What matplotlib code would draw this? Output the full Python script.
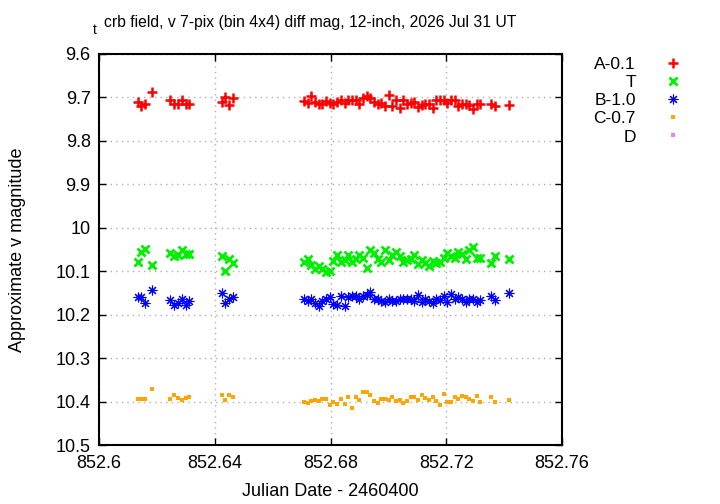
import matplotlib
matplotlib.use('Agg')
import matplotlib.pyplot as plt

plt.rcParams['font.family'] = ['Liberation Sans', 'DejaVu Sans']

# times (JD - 2460400), shared by every series
jd = [852.6134, 852.6145, 852.6160, 852.6184,
      852.6246, 852.6260, 852.6273, 852.6286, 852.6300, 852.6311,
      852.6424, 852.6436, 852.6450, 852.6463,
      852.6709, 852.6722, 852.6734, 852.6747, 852.6760, 852.6772, 852.6785, 852.6798,
      852.6810, 852.6823, 852.6836, 852.6849, 852.6861, 852.6874, 852.6887, 852.6899,
      852.6912, 852.6925, 852.6937, 852.6950, 852.6963, 852.6976, 852.6988, 852.7001,
      852.7014, 852.7026, 852.7039, 852.7052, 852.7064, 852.7077, 852.7090, 852.7103,
      852.7115, 852.7128, 852.7141, 852.7153, 852.7166, 852.7179, 852.7191, 852.7204,
      852.7217, 852.7230, 852.7242, 852.7255, 852.7268, 852.7280, 852.7293, 852.7306,
      852.7315, 852.7355, 852.7367, 852.7417]

a_mag = [9.710, 9.719, 9.714, 9.688,
         9.707, 9.714, 9.716, 9.705, 9.714, 9.714,
         9.711, 9.700, 9.717, 9.702,
         9.708, 9.712, 9.696, 9.710, 9.716, 9.714, 9.708, 9.712,
         9.714, 9.711, 9.707, 9.712, 9.707, 9.706, 9.706, 9.714,
         9.702, 9.697, 9.702, 9.710, 9.715, 9.712, 9.719, 9.694,
         9.719, 9.706, 9.724, 9.707, 9.716, 9.712, 9.711, 9.723,
         9.717, 9.715, 9.714, 9.724, 9.707, 9.707, 9.707, 9.712,
         9.707, 9.705, 9.720, 9.716, 9.715, 9.717, 9.727, 9.715,
         9.714, 9.714, 9.719, 9.717]

t_mag = [10.079, 10.056, 10.048, 10.086,
         10.057, 10.065, 10.063, 10.050, 10.060, 10.060,
         10.065, 10.099, 10.072, 10.080,
         10.079, 10.073, 10.086, 10.094, 10.088, 10.094, 10.102, 10.099,
         10.076, 10.063, 10.079, 10.074, 10.063, 10.079, 10.071, 10.063,
         10.069, 10.092, 10.050, 10.057, 10.071, 10.079, 10.052, 10.074,
         10.063, 10.055, 10.066, 10.079, 10.074, 10.073, 10.063, 10.084,
         10.074, 10.082, 10.089, 10.076, 10.080, 10.079, 10.069, 10.057,
         10.066, 10.069, 10.055, 10.060, 10.073, 10.050, 10.044, 10.069,
         10.070, 10.082, 10.065, 10.071]

b_mag = [10.159, 10.159, 10.174, 10.143,
         10.167, 10.178, 10.172, 10.164, 10.178, 10.169,
         10.150, 10.174, 10.164, 10.160,
         10.164, 10.168, 10.164, 10.172, 10.179, 10.168, 10.163, 10.160,
         10.176, 10.178, 10.158, 10.179, 10.160, 10.158, 10.158, 10.164,
         10.158, 10.155, 10.147, 10.164, 10.163, 10.168, 10.170, 10.163,
         10.168, 10.168, 10.164, 10.164, 10.163, 10.164, 10.168, 10.155,
         10.170, 10.164, 10.168, 10.172, 10.163, 10.166, 10.158, 10.170,
         10.153, 10.163, 10.160, 10.164, 10.170, 10.164, 10.164, 10.170,
         10.166, 10.156, 10.166, 10.149]

c_mag = [10.394, 10.393, 10.394, 10.371,
         10.393, 10.386, 10.391, 10.397, 10.391, 10.390,
         10.386, 10.396, 10.386, 10.389,
         10.402, 10.404, 10.399, 10.396, 10.399, 10.394, 10.393, 10.409,
         10.402, 10.406, 10.395, 10.406, 10.390, 10.414, 10.389, 10.396,
         10.377, 10.377, 10.385, 10.399, 10.404, 10.395, 10.395, 10.396,
         10.389, 10.399, 10.396, 10.403, 10.399, 10.390, 10.389, 10.396,
         10.386, 10.391, 10.396, 10.389, 10.399, 10.407, 10.382, 10.400,
         10.400, 10.389, 10.394, 10.388, 10.390, 10.393, 10.399, 10.388,
         10.400, 10.389, 10.400, 10.396]

d_mag = []  # no D points in range

labels = ['A-0.1', 'T', 'B-1.0', 'C-0.7', 'D']
colors = ['#ff0000', '#00ee00', '#0000ff', '#ffa500', '#ee82ee']

fig = plt.figure(figsize=(7.2, 5.04), dpi=100)
ax = fig.add_axes([99 / 720, 1 - 445 / 504, 463 / 720, 391 / 504])

ax.plot(jd, a_mag, ls='none', marker='+', ms=6.5, mew=1.8, color=colors[0], label=labels[0])
ax.plot(jd, t_mag, ls='none', marker='x', ms=5.8, mew=2, color=colors[1], label=labels[1])
ax.plot(jd, b_mag, ls='none', marker=(8, 2, 0), ms=7, mew=0.8, color=colors[2], label=labels[2])
ax.plot(jd, c_mag, ls='none', marker='s', ms=3.3, mew=0, color=colors[3], label=labels[3])
ax.plot(d_mag, d_mag, ls='none', marker='s', ms=3.3, mew=0, color=colors[4], label=labels[4])

ax.set_xlim(852.6, 852.76)
ax.set_ylim(10.5, 9.6)
ax.set_xticks([852.6, 852.64, 852.68, 852.72, 852.76])
ax.set_xticklabels(['852.6', '852.64', '852.68', '852.72', '852.76'])
ax.set_yticks([9.6, 9.7, 9.8, 9.9, 10.0, 10.1, 10.2, 10.3, 10.4, 10.5])
ax.set_yticklabels(['9.6', '9.7', '9.8', '9.9', '10', '10.1', '10.2', '10.3', '10.4', '10.5'])
ax.tick_params(direction='in', length=5, width=1, top=True, right=True, labelsize=13)
ax.tick_params(axis='x', pad=7)
ax.tick_params(axis='y', pad=6)
ax.grid(True, color='#b0b0b0', ls=(0, (1, 3)), lw=1)
for sp in ax.spines.values():
    sp.set_linewidth(1.5)

ax.set_xlabel('Julian Date - 2460400', fontsize=13, va='center')
ax.set_ylabel('Approximate v magnitude', fontsize=13, va='center')
ax.xaxis.set_label_coords((330 - 99) / 463, (445 - 491) / 391)
ax.yaxis.set_label_coords((18 - 99) / 463, 0.5)

fig.text(93 / 720, 1 - 34 / 504, 't', fontsize=10, ha='left', va='baseline')
fig.text(104 / 720, 1 - 27 / 504, 'crb field, v 7-pix (bin 4x4) diff mag, 12-inch, 2026 Jul 31 UT',
         fontsize=11.3, ha='left', va='baseline')

ax.legend(loc='upper right', bbox_to_anchor=(682 / 720, 1 - 57 / 504),
          bbox_transform=fig.transFigure, frameon=False, markerfirst=False,
          fontsize=12.5, handlelength=1.0, handletextpad=1.65, labelspacing=0.17,
          borderpad=0, borderaxespad=0)

fig.savefig('out.png', dpi=100)
